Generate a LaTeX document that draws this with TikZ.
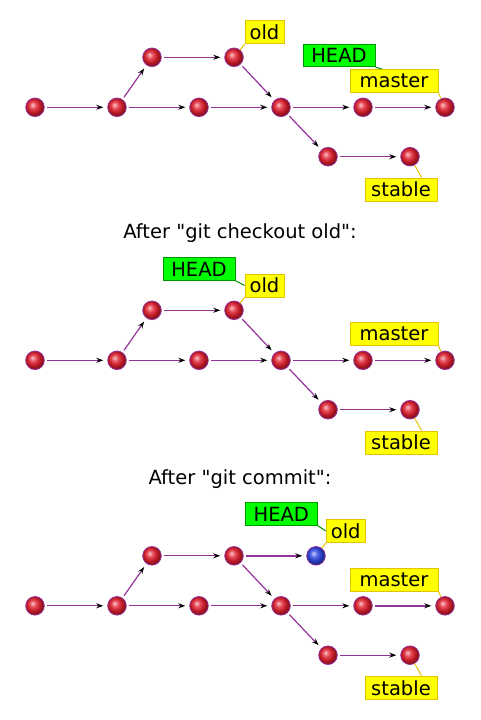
\documentclass[tikz,border=0pt]{standalone}
\usepackage{fontspec}
\setmainfont{DejaVu Sans}[Ligatures=TeXOff]
\usetikzlibrary{arrows.meta}

\definecolor{commitline}{RGB}{150,50,155}
\definecolor{commitred}{RGB}{225,30,45}
\definecolor{commitblue}{RGB}{45,70,225}
\definecolor{branchfill}{RGB}{255,255,0}
\definecolor{branchline}{RGB}{230,195,0}
\definecolor{headfill}{RGB}{0,255,0}
\definecolor{headline}{RGB}{0,150,0}

\pgfdeclareradialshading{redball}{\pgfqpoint{-7bp}{7bp}}{color(0bp)=(commitred!25!white); color(9bp)=(commitred!80!white); color(18bp)=(commitred!85!black); color(25bp)=(commitred!60!black); color(50bp)=(commitred!60!black)}
\pgfdeclareradialshading{blueball}{\pgfqpoint{-7bp}{7bp}}{color(0bp)=(commitblue!25!white); color(9bp)=(commitblue!80!white); color(18bp)=(commitblue!85!black); color(25bp)=(commitblue!60!black); color(50bp)=(commitblue!60!black)}

\tikzset{
	commit/.style={circle, draw=commitline, line width=0.8pt, minimum size=18.6pt, inner sep=0pt, shading=redball},
	parent/.style={draw=commitline, line width=1.2pt, shorten <=2.5pt, shorten >=4pt, -{Stealth[length=7pt, width=5pt, color=black]}},
	branchbox/.style={rectangle, draw=branchline, fill=branchfill, line width=0.8pt, minimum height=23pt, inner sep=0pt},
	headbox/.style={rectangle, draw=headline, fill=headfill, line width=0.8pt, minimum height=22.5pt, minimum width=72pt, inner sep=0pt},
	branchtie/.style={draw=branchline, line width=1pt},
	headtie/.style={draw=headline, line width=1pt},
}

\begin{document}
\begin{tikzpicture}[x=1pt, y=-1pt, font=\fontsize{19.5}{23}\selectfont]
		\useasboundingbox (0,0) rectangle (480,720);
		\def\ym{107.3}
		\def\yu{57.3}
		\def\yd{156.7}
		% the same history, drawn three times
		\foreach \s/\dy/\lw in {1/0/1.2, 2/253/1.2, 3/498.5/2} {
			\node[commit] (c0\s) at (35, \ym+\dy) {};
			\node[commit] (c1\s) at (117, \ym+\dy) {};
			\node[commit] (c2\s) at (199, \ym+\dy) {};
			\node[commit] (c3\s) at (281, \ym+\dy) {};
			\node[commit] (c4\s) at (363, \ym+\dy) {};
			\node[commit] (c5\s) at (445, \ym+\dy) {};
			\node[commit] (u1\s) at (152, \yu+\dy) {};
			\node[commit] (u2\s) at (234, \yu+\dy) {};
			\node[commit] (d1\s) at (328, \yd+\dy) {};
			\node[commit] (d2\s) at (410, \yd+\dy) {};
			\draw[parent] (c0\s) -- (c1\s);
			\draw[parent] (c1\s) -- (u1\s);
			\draw[parent] (u1\s) -- (u2\s);
			\draw[parent] (c1\s) -- (c2\s);
			\draw[parent] (c2\s) -- (c3\s);
			\draw[parent] (u2\s) -- (c3\s);
			\draw[parent] (c3\s) -- (c4\s);
			\draw[parent, line width=\lw pt] (c4\s) -- (c5\s);
			\draw[parent] (c3\s) -- (d1\s);
			\draw[parent] (d1\s) -- (d2\s);
			\node[branchbox, minimum width=88pt] (master\s) at (394, 81+\dy) {master};
			\node[branchbox, minimum width=72pt] (stable\s) at (401, 189.5+\dy) {stable};
			\draw[branchtie] (master\s.south east) -- (c5\s);
			\draw[branchtie] (stable\s.30) -- (d2\s);
		}
		% before
		\node[branchbox, minimum width=39pt] (old1) at (264.5, 32.3) {old};
		\node[headbox] (head1) at (339, 55.5) {HEAD};
		\draw[branchtie] (old1.south west) -- (u21);
		\draw[headtie] (head1.south east) -- (master1.135);
		% after checkout
		\node (title2) at (240, 233) {After "git checkout old":};
		\node[branchbox, minimum width=39pt] (old2) at (264.5, 285.5) {old};
		\node[headbox] (head2) at (199, 269) {HEAD};
		\draw[branchtie] (old2.south west) -- (u22);
		\draw[headtie] (head2.south east) -- (old2.west);
		% after commit
		\node (title3) at (240, 479) {After "git commit":};
		\node[commit, shading=blueball] (n3) at (316, \yu+498.5) {};
		\draw[parent, line width=2pt] (u23) -- (n3);
		\node[branchbox, minimum width=39pt] (old3) at (345.7, 531) {old};
		\node[headbox] (head3) at (281.3, 514) {HEAD};
		\draw[branchtie] (old3.south west) -- (n3);
		\draw[headtie] (head3.south east) -- (old3.west);
	\end{tikzpicture}
\end{document}
